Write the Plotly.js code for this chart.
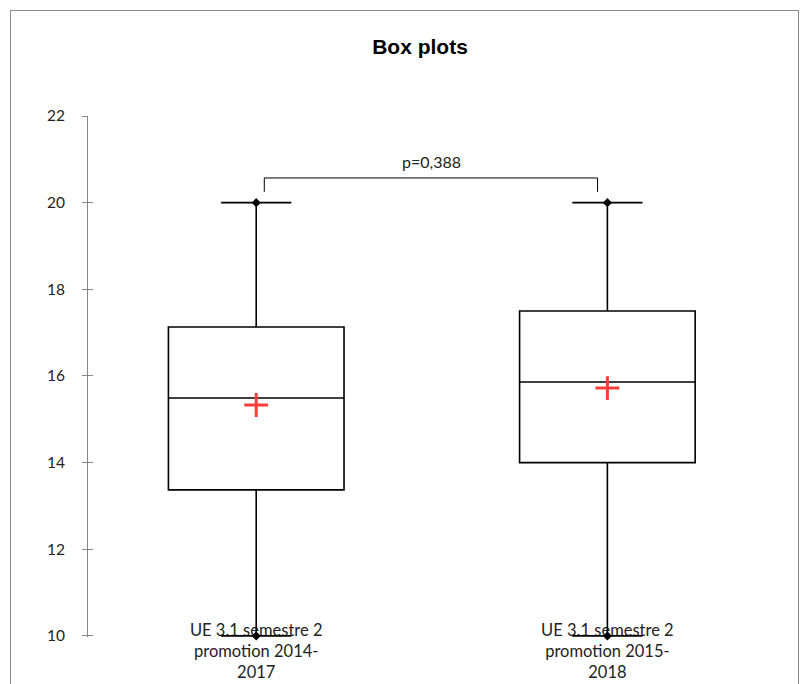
<!DOCTYPE html>
<html><head><meta charset="utf-8">
<script src="https://cdn.plot.ly/plotly-3.0.1.min.js"></script>
<style>
html,body{margin:0;padding:0;background:#fff;}
#chart{width:800px;height:684px;}
#frame{position:absolute;left:10px;top:10px;width:789px;height:720px;border:1px solid #8c8c8c;pointer-events:none;box-sizing:border-box;}
</style>
</head><body>
<div id="chart"></div><div id="frame"></div>
<script>
const categories = ["UE 3.1 semestre 2<br>promotion 2014-<br>2017", "UE 3.1 semestre 2<br>promotion 2015-<br>2018"];
const positions = [0, 1];
const minimum = [10, 10];
const q1 = [13.37, 14.0];
const median = [15.49, 15.86];
const q3 = [17.13, 17.5];
const maximum = [20, 20];
const mean = [15.33, 15.72];
const pValueText = "p=0,388";
const bracketLevel = 20.57;
const bracketFoot = 20.25;
const yTicks = [10, 12, 14, 16, 18, 20, 22];

const traces = [];
positions.forEach((p, i) => {
  traces.push({
    type: 'box', x: [p], q1: [q1[i]], median: [median[i]], q3: [q3[i]],
    lowerfence: [minimum[i]], upperfence: [maximum[i]],
    width: 0.5, whiskerwidth: 0.4, boxpoints: false,
    line: {color: '#000', width: 1.6}, fillcolor: '#fff',
    hoverinfo: 'skip', showlegend: false
  });
});
traces.push({
  type: 'scatter', mode: 'markers', cliponaxis: false,
  x: positions.concat(positions), y: minimum.concat(maximum),
  marker: {symbol: 'diamond', size: 7, color: '#000'},
  hoverinfo: 'skip', showlegend: false
});
traces.push({
  type: 'scatter', mode: 'markers', x: positions, y: mean,
  marker: {symbol: 'cross-thin', size: 17, color: '#ff3b3b', line: {color: '#ff3b3b', width: 3}},
  hoverinfo: 'skip', showlegend: false
});
const bx0 = positions[0] + 0.023, bx1 = positions[1] - 0.028;
traces.push({
  type: 'scatter', mode: 'lines',
  x: [bx0, bx0, bx1, bx1], y: [bracketFoot, bracketLevel, bracketLevel, bracketFoot],
  line: {color: '#000', width: 1}, hoverinfo: 'skip', showlegend: false
});
// invisible trace so the inner-tick overlay axis is drawn
traces.push({
  type: 'scatter', mode: 'markers', x: [positions[0]], y: [median[0]], yaxis: 'y2',
  marker: {opacity: 0}, hoverinfo: 'skip', showlegend: false
});

const axisGray = '#868686';
const layout = {
  width: 800, height: 684,
  margin: {l: 88, r: 10, t: 116, b: 47},
  paper_bgcolor: '#fff', plot_bgcolor: 'rgba(0,0,0,0)',
  font: {family: 'Lato, "Open Sans", sans-serif', size: 15, color: '#222'},
  title: {text: 'Box plots', x: 0.525, xref: 'container', y: 1 - 47/684, yref: 'container', yanchor: 'middle', xanchor: 'center',
          font: {family: '"Liberation Sans", Arial, sans-serif', size: 21, weight: 'bold', color: '#000'}},
  xaxis: {range: [-0.479, 1.52], tickvals: positions, ticktext: categories, showline: false, showgrid: false,
          zeroline: false, ticks: '', ticklabelstandoff: -19, tickfont: {size: 16.5, color: '#222'}, fixedrange: true,
          layer: 'below traces'},
  yaxis: {range: [9.975, 22], tickvals: yTicks, ticks: 'outside', ticklen: 5, tickcolor: axisGray, showline: true,
          linecolor: axisGray, linewidth: 1, showgrid: false, zeroline: false, tickfont: {size: 15.5, color: '#222'},
          ticklabelstandoff: 14},
  yaxis2: {range: [9.975, 22], tickvals: yTicks, overlaying: 'y', side: 'left', anchor: 'x', ticks: 'inside', ticklen: 5,
           tickcolor: axisGray, showticklabels: false, showline: false, showgrid: false, zeroline: false},
  annotations: [{x: (positions[0] + positions[1]) / 2, y: bracketLevel, xref: 'x', yref: 'y', text: pValueText,
                 showarrow: false, yanchor: 'bottom', yshift: 5, font: {size: 16, color: '#222'}}]
};
Plotly.newPlot('chart', traces, layout, {displayModeBar: false, staticPlot: true});
</script>
</body></html>
